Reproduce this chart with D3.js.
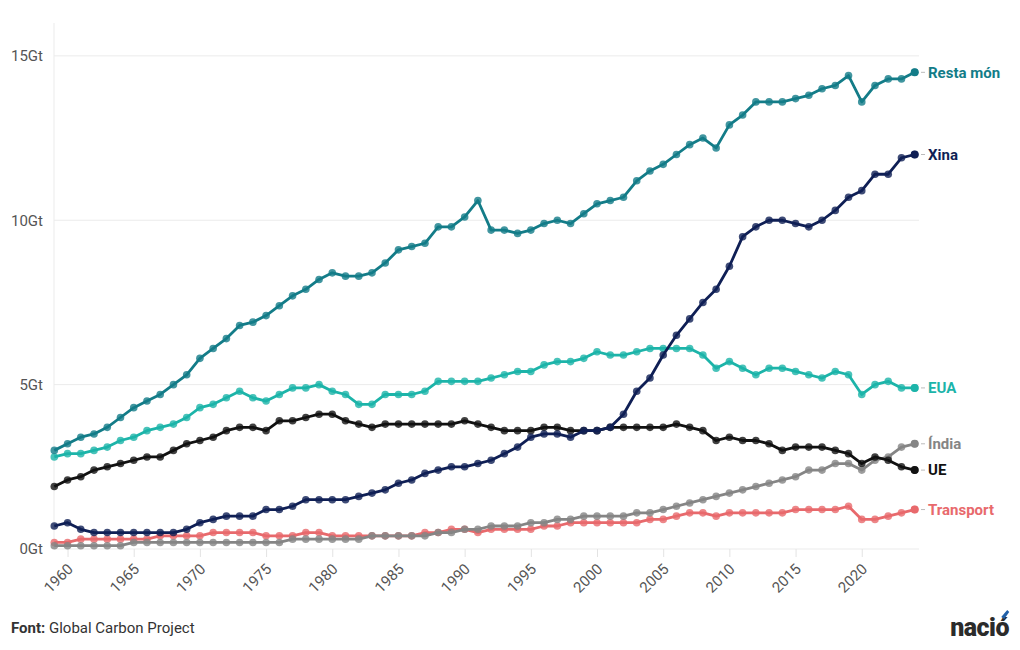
<!DOCTYPE html>
<html>
<head>
<meta charset="utf-8">
<script src="https://cdn.jsdelivr.net/npm/d3@7"></script>
<style>
  html, body { margin: 0; padding: 0; background: #fff; }
  svg { display: block; font-family: Roboto, "Noto Sans", sans-serif; }
</style>
</head>
<body>
<svg id="chart" width="1020" height="650"></svg>
<script>
const years = d3.range(1959, 2025);

const restaMon = [3.0,3.2,3.4,3.5,3.7,4.0,4.3,4.5,4.7,5.0,
  5.3,5.8,6.1,6.4,6.8,6.9,7.1,7.4,7.7,7.9,
  8.2,8.4,8.3,8.3,8.4,8.7,9.1,9.2,9.3,9.8,
  9.8,10.1,10.6,9.7,9.7,9.6,9.7,9.9,10.0,9.9,
  10.2,10.5,10.6,10.7,11.2,11.5,11.7,12.0,12.3,12.5,
  12.2,12.9,13.2,13.6,13.6,13.6,13.7,13.8,14.0,14.1,
  14.4,13.6,14.1,14.3,14.3,14.5];
const xina = [0.7,0.8,0.6,0.5,0.5,0.5,0.5,0.5,0.5,0.5,
  0.6,0.8,0.9,1.0,1.0,1.0,1.2,1.2,1.3,1.5,
  1.5,1.5,1.5,1.6,1.7,1.8,2.0,2.1,2.3,2.4,
  2.5,2.5,2.6,2.7,2.9,3.1,3.4,3.5,3.5,3.4,
  3.6,3.6,3.7,4.1,4.8,5.2,5.9,6.5,7.0,7.5,
  7.9,8.6,9.5,9.8,10.0,10.0,9.9,9.8,10.0,10.3,
  10.7,10.9,11.4,11.4,11.9,12.0];
const eua = [2.8,2.9,2.9,3.0,3.1,3.3,3.4,3.6,3.7,3.8,
  4.0,4.3,4.4,4.6,4.8,4.6,4.5,4.7,4.9,4.9,
  5.0,4.8,4.7,4.4,4.4,4.7,4.7,4.7,4.8,5.1,
  5.1,5.1,5.1,5.2,5.3,5.4,5.4,5.6,5.7,5.7,
  5.8,6.0,5.9,5.9,6.0,6.1,6.1,6.1,6.1,5.9,
  5.5,5.7,5.5,5.3,5.5,5.5,5.4,5.3,5.2,5.4,
  5.3,4.7,5.0,5.1,4.9,4.9];
const ue = [1.9,2.1,2.2,2.4,2.5,2.6,2.7,2.8,2.8,3.0,
  3.2,3.3,3.4,3.6,3.7,3.7,3.6,3.9,3.9,4.0,
  4.1,4.1,3.9,3.8,3.7,3.8,3.8,3.8,3.8,3.8,
  3.8,3.9,3.8,3.7,3.6,3.6,3.6,3.7,3.7,3.6,
  3.6,3.6,3.7,3.7,3.7,3.7,3.7,3.8,3.7,3.6,
  3.3,3.4,3.3,3.3,3.2,3.0,3.1,3.1,3.1,3.0,
  2.9,2.6,2.8,2.7,2.5,2.4];
const india = [0.1,0.1,0.1,0.1,0.1,0.1,0.2,0.2,0.2,0.2,
  0.2,0.2,0.2,0.2,0.2,0.2,0.2,0.2,0.3,0.3,
  0.3,0.3,0.3,0.3,0.4,0.4,0.4,0.4,0.4,0.5,
  0.5,0.6,0.6,0.7,0.7,0.7,0.8,0.8,0.9,0.9,
  1.0,1.0,1.0,1.0,1.1,1.1,1.2,1.3,1.4,1.5,
  1.6,1.7,1.8,1.9,2.0,2.1,2.2,2.4,2.4,2.6,
  2.6,2.4,2.7,2.8,3.1,3.2];
const transport = [0.2,0.2,0.3,0.3,0.3,0.3,0.3,0.3,0.4,0.4,
  0.4,0.4,0.5,0.5,0.5,0.5,0.4,0.4,0.4,0.5,
  0.5,0.4,0.4,0.4,0.4,0.4,0.4,0.4,0.5,0.5,
  0.6,0.6,0.5,0.6,0.6,0.6,0.6,0.7,0.7,0.8,
  0.8,0.8,0.8,0.8,0.8,0.9,0.9,1.0,1.1,1.1,
  1.0,1.1,1.1,1.1,1.1,1.1,1.2,1.2,1.2,1.2,
  1.3,0.9,0.9,1.0,1.1,1.2];

const seriesNames = ["Transport", "Índia", "UE", "EUA", "Xina", "Resta món"];
const seriesValues = [transport, india, ue, eua, xina, restaMon];
const seriesColors = ["#e8696c", "#858585", "#111111", "#1cb4a9", "#0f1f55", "#137c88"];

const yTicks = [0, 5, 10, 15];
const xTicks = d3.range(1960, 2021, 5);
const sourceLabel = "Font:";
const sourceText = " Global Carbon Project";

const svg = d3.select("#chart");
const x = d3.scaleLinear().domain([1959, 2024]).range([54.3, 914.7]);
const y = d3.scaleLinear().domain([0, 16]).range([549, 23]);
const gridRight = 919;

// grid
const g = svg.append("g");
g.selectAll("line.grid").data(yTicks).join("line")
  .attr("x1", 54).attr("x2", gridRight)
  .attr("y1", d => y(d)).attr("y2", d => y(d))
  .attr("stroke", "#ebebeb").attr("stroke-width", 1);
g.append("line").attr("x1", 54).attr("x2", 54).attr("y1", y(16)).attr("y2", y(0))
  .attr("stroke", "#ebebeb");

// y labels
g.selectAll("text.ylab").data(yTicks).join("text")
  .attr("x", 43).attr("y", d => y(d)).attr("dy", "0.35em")
  .attr("text-anchor", "end").attr("fill", "#555").attr("font-size", 15)
  .text(d => d + "Gt");

// x axis
const xAxis = d3.axisBottom(x).tickValues(xTicks).tickFormat(d3.format("d")).tickSize(8).tickPadding(4);
const xa = svg.append("g").attr("transform", `translate(0,${y(0)})`).call(xAxis);
xa.select(".domain").remove();
xa.selectAll(".tick line").attr("stroke", "#e3e3e3");
xa.selectAll(".tick text")
  .attr("fill", "#555").attr("font-size", 15).attr("font-family", "Roboto, sans-serif")
  .attr("text-anchor", "end")
  .attr("y", 19).attr("dy", 0).attr("dx", -10.6)
  .attr("transform", "rotate(-45)");

// series
const line = d3.line().x((d, i) => x(years[i])).y(d => y(d));
seriesValues.forEach((vals, si) => {
  const col = seriesColors[si];
  const sg = svg.append("g");
  sg.selectAll("circle").data(vals).join("circle")
    .attr("cx", (d, i) => x(years[i])).attr("cy", d => y(d))
    .attr("r", 3.8).attr("fill", col).attr("fill-opacity", 0.8);
  sg.append("path").datum(vals).attr("d", line)
    .attr("fill", "none").attr("stroke", col).attr("stroke-width", 2.8)
    .attr("stroke-linejoin", "round");
  const last = vals[vals.length - 1];
  const ly = y(last);
  sg.append("circle").attr("cx", x(2024)).attr("cy", ly).attr("r", 4).attr("fill", col);
  sg.append("line").attr("x1", 921).attr("x2", 925).attr("y1", ly).attr("y2", ly)
    .attr("stroke", "#bbb").attr("stroke-width", 1);
  sg.append("text").attr("x", 928).attr("y", ly).attr("dy", "0.35em")
    .attr("fill", col).attr("font-size", 15).attr("font-weight", 700)
    .text(seriesNames[si]);
});

// footer
const ft = svg.append("text").attr("x", 11).attr("y", 633)
  .attr("font-size", 15).attr("fill", "#333");
ft.append("tspan").attr("font-weight", 700).text(sourceLabel);
ft.append("tspan").text(sourceText);

// logo
const logo = svg.append("text").attr("x", 1009).attr("y", 636).attr("text-anchor", "end")
  .attr("font-size", 25).attr("font-weight", 900).attr("fill", "#2b2b2b")
  .attr("font-family", "Roboto, sans-serif").attr("letter-spacing", "-0.5")
  .text("nació");
// blue accent over the ó
const ln = logo.node();
const s = ln.getStartPositionOfChar(4), e = ln.getEndPositionOfChar(4);
const cx = (s.x + e.x) / 2;
svg.append("path")
  .attr("d", `M${cx - 1},${636 - 19} L${cx + 5},${636 - 26} L${cx + 7},${636 - 24} L${cx + 2},${636 - 17} Z`)
  .attr("fill", "#1f5fa8");
</script>
</body>
</html>
